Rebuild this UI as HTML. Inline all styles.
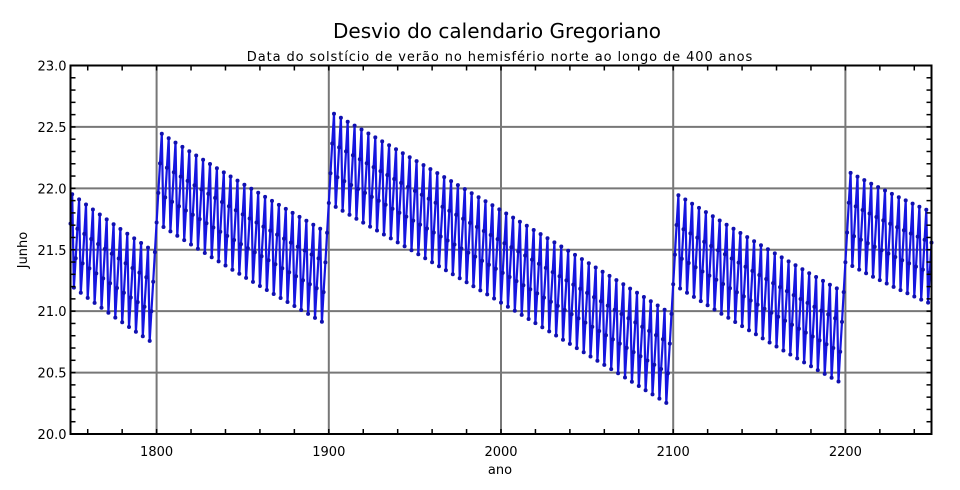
<!DOCTYPE html>
<html><head><meta charset="utf-8"><style>
html,body{margin:0;padding:0;background:#fff;}
svg text{font-family:"DejaVu Sans","Liberation Sans",sans-serif;fill:#000;}
</style></head><body>
<svg id="s" width="960" height="485" viewBox="0 0 960 485" xmlns="http://www.w3.org/2000/svg">
<rect width="960" height="485" fill="#fff"/>
<text x="497" y="38" font-size="20" text-anchor="middle">Desvio do calendario Gregoriano</text>
<text x="500" y="61" font-size="13" letter-spacing="0.9" text-anchor="middle">Data do solstício de verão no hemisfério norte ao longo de 400 anos</text>
<g id="grid" stroke="#777" stroke-width="2"></g>
<g id="data"></g>
<g id="ticks" stroke="#000" stroke-width="1.5"></g>
<rect x="70.5" y="65.5" width="861" height="368.5" fill="none" stroke="#000" stroke-width="2"/>
<g id="labels" font-size="13"></g>
<text x="500" y="474" font-size="13" text-anchor="middle">ano</text>
<text x="27" y="250" font-size="13" text-anchor="middle" transform="rotate(-90 27 250)">Junho</text>
</svg>
<script>
var L=70.5,R=931.5,T=65.5,B=434;
function X(y){return L+(y-1750)/500*(R-L);}
function Y(v){return B-(v-20)/3*(B-T);}
var ns="http://www.w3.org/2000/svg";
function el(p,t,a){var e=document.createElementNS(ns,t);for(var k in a)e.setAttribute(k,a[k]);p.appendChild(e);return e;}
var g=document.getElementById('grid'),tk=document.getElementById('ticks'),lb=document.getElementById('labels'),d=document.getElementById('data');
for(var yr=1800;yr<=2200;yr+=100){el(g,'line',{x1:X(yr),x2:X(yr),y1:T,y2:B});var t=el(lb,'text',{x:X(yr),y:B+22,'text-anchor':'middle'});t.textContent=yr;}
for(var v=20.5;v<23;v+=0.5){el(g,'line',{x1:L,x2:R,y1:Y(v),y2:Y(v)});}
for(var v=20;v<=23.001;v+=0.5){var t=el(lb,'text',{x:L-4,y:Y(v)+5,'text-anchor':'end'});t.textContent=v.toFixed(1);}
for(var yr=1760;yr<2250;yr+=20){el(tk,'line',{x1:X(yr),x2:X(yr),y1:T,y2:T+5});el(tk,'line',{x1:X(yr),x2:X(yr),y1:B,y2:B-5});}
for(var i=1;i<30;i++){var v=20+i*0.1;el(tk,'line',{x1:L,x2:L+5,y1:Y(v),y2:Y(v)});el(tk,'line',{x1:R,x2:R-5,y1:Y(v),y2:Y(v)});}
function N(y){return Math.floor(y/4)-Math.floor(y/100)+Math.floor(y/400);}
var pts=[];
for(var y=1750;y<=2250;y++){var c=(y-2000)/100;var v=21.07+0.242190*(y-2000)-(N(y)-N(2000))-0.05*c-0.02*c*c+0.0058*c*c*(c*c-1);pts.push(X(y).toFixed(1)+','+Y(v).toFixed(1));}
el(d,'polyline',{points:pts.join(' '),fill:'none',stroke:'#1515e0','stroke-width':2.2,'stroke-linejoin':'round'});
pts.forEach(function(p){var a=p.split(',');el(d,'circle',{cx:a[0],cy:a[1],r:2,fill:'#1010b0'});});
</script>
</body></html>
